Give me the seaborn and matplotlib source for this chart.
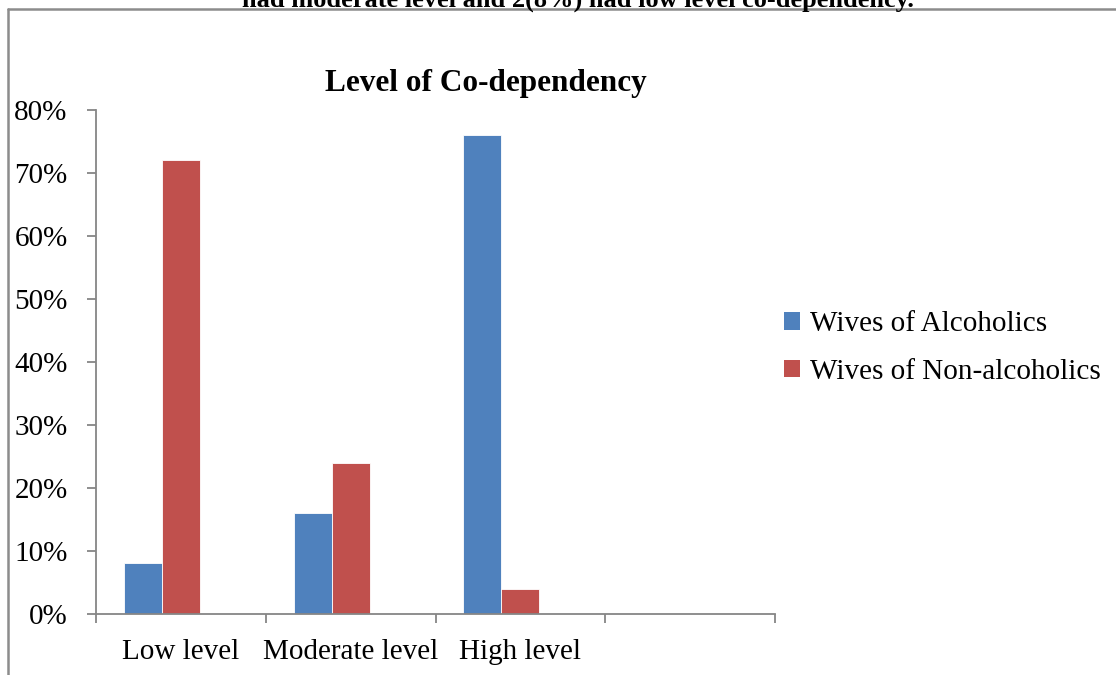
import matplotlib
matplotlib.use("Agg")
import matplotlib.pyplot as plt
import seaborn as sns
import pandas as pd
import numpy as np
from matplotlib.patches import Patch
from matplotlib.lines import Line2D

categories = ["Low level", "Moderate level", "High level", ""]
series_names = ["Wives of Alcoholics", "Wives of Non-alcoholics", " "]
alcoholics = [8, 16, 76]
non_alcoholics = [72, 24, 4]
yticks = [0, 10, 20, 30, 40, 50, 60, 70, 80]
ytick_labels = [f"{v}%" for v in yticks]
title = "Level of Co-dependency"
caption = "had moderate level and 2(8%) had low level co-dependency."

colors = ["#4F81BD", "#C0504D", "#9BBB59"]
axis_gray = "#868686"

rows = []
for c, v in zip(categories[:3], alcoholics):
    rows.append({"cat": c, "series": series_names[0], "val": v})
for c, v in zip(categories[:3], non_alcoholics):
    rows.append({"cat": c, "series": series_names[1], "val": v})
df = pd.DataFrame(rows)

sns.set_theme(style="white")
plt.rcParams["font.family"] = ["Liberation Serif", "DejaVu Serif"]
plt.rcParams["text.color"] = "black"
plt.rcParams["xtick.color"] = "black"
plt.rcParams["ytick.color"] = "black"

fig = plt.figure(figsize=(11.16, 6.75), dpi=100)
ax = fig.add_axes([96 / 1116, (675 - 613.7) / 675, (775 - 96) / 1116, (613.7 - 110) / 675])

sns.barplot(data=df, x="cat", y="val", hue="series", order=categories,
            hue_order=series_names, palette=dict(zip(series_names, colors)),
            width=0.672, ax=ax, legend=False, errorbar=None,
            edgecolor="white", linewidth=0.6, saturation=1)

ax.set_xlim(-0.5, 3.5)
ax.set_ylim(0, 80)
ax.set_yticks(yticks)
ax.set_yticklabels(ytick_labels)
ax.set_xlabel("")
ax.set_ylabel("")

ax.set_xticks(range(4))
ax.set_xticklabels(categories)
ax.tick_params(axis="x", which="major", bottom=True, length=0, labelsize=21, pad=18,
               labelcolor="black")
ax.set_xticks(np.arange(-0.5, 4, 1), minor=True)
ax.tick_params(axis="x", which="minor", bottom=True, length=6.5, width=1.3,
               color=axis_gray, direction="out")
ax.tick_params(axis="y", left=True, length=6.5, width=1.3, color=axis_gray,
               direction="out", labelsize=21, pad=14, labelcolor="black")

for s in ["top", "right"]:
    ax.spines[s].set_visible(False)
ax.spines["left"].set_color(axis_gray)
ax.spines["bottom"].set_color(axis_gray)
ax.spines["left"].set_linewidth(1.3)
ax.spines["bottom"].set_linewidth(1.3)

fig.text(486 / 1116, 1 - 84 / 675, title, fontsize=22.5, fontweight="bold",
         ha="center", va="center", color="black")
fig.text(578 / 1116, 1 - 0 / 675, caption, fontsize=19, fontweight="bold",
         ha="center", va="center", color="black")

# outer frame
fig.add_artist(Line2D([8 / 1116, 8 / 1116], [0, 1 - 9 / 675], color="#8c8c8c", lw=1.8,
                      transform=fig.transFigure))
fig.add_artist(Line2D([8 / 1116, 1], [1 - 9 / 675, 1 - 9 / 675], color="#8c8c8c", lw=1.8,
                      transform=fig.transFigure))

handles = [Patch(facecolor=colors[0], edgecolor="none"),
           Patch(facecolor=colors[1], edgecolor="none")]
fig.legend(handles, series_names[:2], loc="center left",
           bbox_to_anchor=(778 / 1116, 1 - 348 / 675), frameon=False,
           fontsize=21, handlelength=0.55, handleheight=0.55, handletextpad=0.35,
           labelspacing=0.75, borderaxespad=0, borderpad=0.2, labelcolor="black")

fig.savefig("out.png", dpi=100)
